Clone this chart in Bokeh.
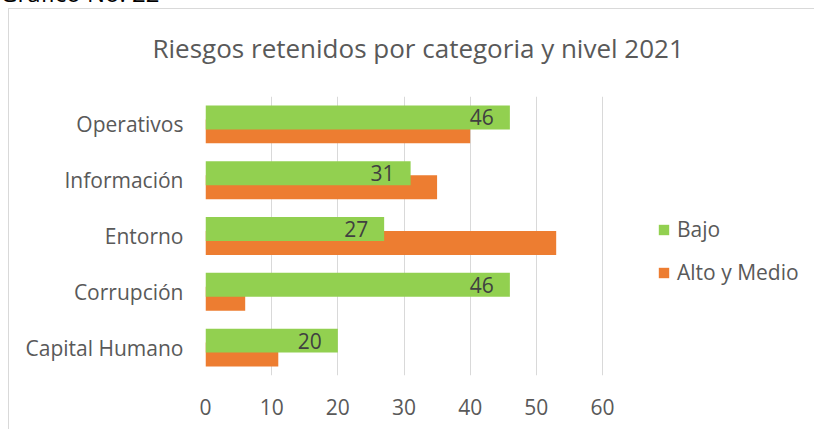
from bokeh.plotting import figure
from bokeh.layouts import column
from bokeh.models import (ColumnDataSource, FactorRange, Range1d, FixedTicker,
                          Legend, LegendItem, Title, Div)
from bokeh.transform import dodge
from bokeh.core.properties import value
from bokeh.embed import file_html
from bokeh.resources import INLINE

categories = ["Operativos", "Información", "Entorno", "Corrupción", "Capital Humano"]
bajo = [46, 31, 27, 46, 20]
alto_medio = [40, 35, 53, 6, 11]
x_ticks = [0, 10, 20, 30, 40, 50, 60]
title_text = "Riesgos retenidos por categoria y nivel 2021"
caption_text = "Gráfico No. 22"

FONT = "Open Sans"
GRAY = "#595959"
GREEN = "#92d050"
ORANGE = "#ed7d31"

source = ColumnDataSource(dict(
    cat=categories,
    bajo=bajo,
    alto=alto_medio,
    lbl=[str(v) for v in bajo],
))

p = figure(
    width=806, height=421,
    y_range=FactorRange(*list(reversed(categories)), range_padding=0),
    x_range=Range1d(0, 92.19),
    output_backend="svg", toolbar_location=None,
    min_border_left=196, min_border_right=0,
    min_border_top=87, min_border_bottom=55,
    styles={"margin-left": "8px", "margin-top": "-1px",
            "border-left": "1px solid #d9d9d9", "border-top": "1px solid #d9d9d9"},
)
p.title = None

r_alto = p.hbar(y=dodge("cat", -0.125, range=p.y_range), right="alto", left=0,
                height=0.4286, color=ORANGE, line_color=None, source=source)
r_bajo = p.hbar(y=dodge("cat", 0.125, range=p.y_range), right="bajo", left=0,
                height=0.4286, color=GREEN, line_color=None, source=source)

p.text(x="bajo", y=dodge("cat", 0.125, range=p.y_range), text="lbl", source=source,
       x_offset=-16, text_align="right", text_baseline="middle",
       text_font=value(FONT), text_font_size="21px", text_color="#404040")

# spacer between frame and title, then the title itself
spacer = Title(text=" ", text_font_size="1px", standoff=28)
p.add_layout(spacer, "above")
main_title = Title(text=title_text, align="left", offset=-53, standoff=0,
                   text_font=FONT, text_font_size="26px", text_font_style="normal",
                   text_color=GRAY)
p.add_layout(main_title, "above")

# axes
p.xaxis.ticker = FixedTicker(ticks=x_ticks)
for ax in (p.xaxis, p.yaxis):
    ax.axis_line_color = None
    ax.major_tick_line_color = None
    ax.minor_tick_line_color = None
    ax.major_tick_out = 0
    ax.major_tick_in = 0
    ax.major_label_text_font = FONT
    ax.major_label_text_font_size = "21px"
    ax.major_label_text_color = GRAY
p.xaxis.major_label_standoff = 23
p.yaxis.major_label_standoff = 22

p.xgrid.grid_line_color = "#d9d9d9"
p.xgrid.grid_line_width = 1
p.ygrid.grid_line_color = None
p.outline_line_color = None

legend = Legend(items=[LegendItem(label="Bajo", renderers=[r_bajo]),
                       LegendItem(label="Alto y Medio", renderers=[r_alto])],
                location=(452, 89), orientation="vertical",
                glyph_width=13, glyph_height=13, label_standoff=7,
                label_height=21,
                label_text_font=FONT, label_text_font_size="21px",
                label_text_color=GRAY, spacing=15, padding=0, margin=0,
                border_line_color=None, background_fill_alpha=0)
p.add_layout(legend, "center")

caption = Div(text=caption_text, width=300, height=22,
              styles={"margin-top": "-18px", "margin-left": "0px",
                      "font-family": FONT, "font-size": "24px",
                      "line-height": "22px", "color": "#000000"})

layout = column(caption, p, spacing=0)

open("out.html", "w").write(file_html(layout, INLINE))
